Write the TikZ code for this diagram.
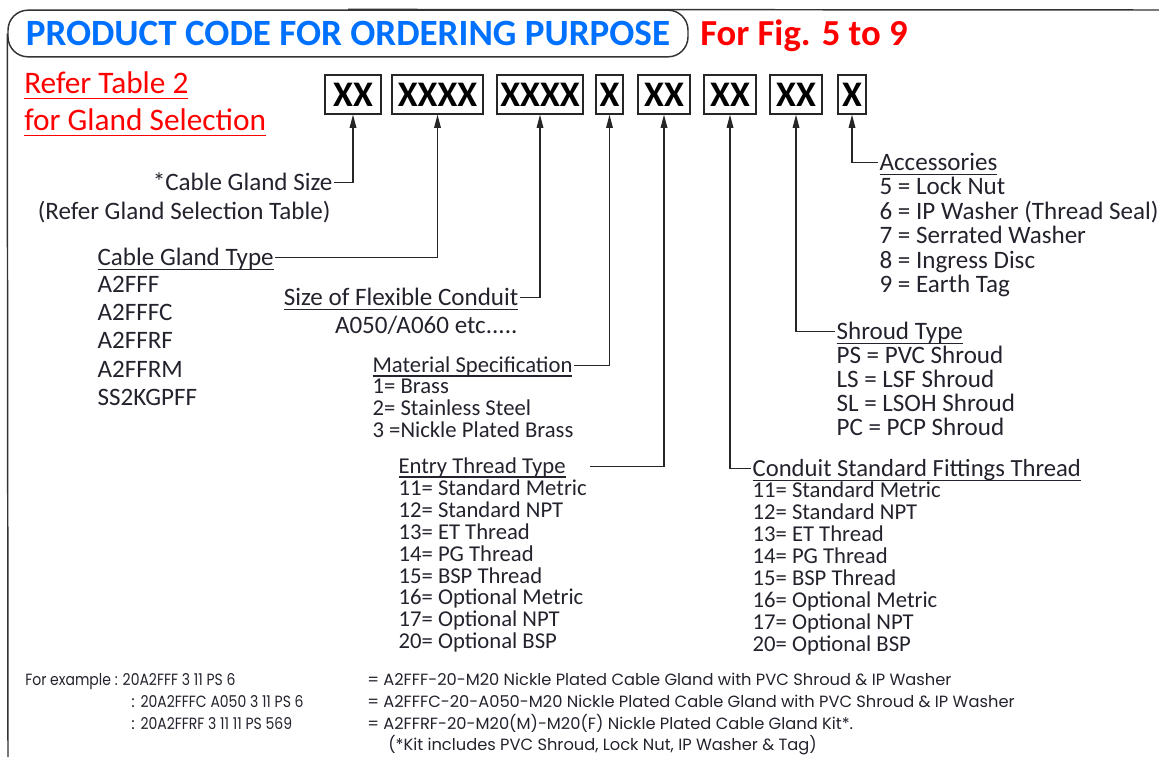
\documentclass[tikz,border=0pt]{standalone}
\usepackage{fontspec}
\setmainfont{Carlito}
\newfontfamily\footfont{Poppins}
\newfontfamily\footcode[FakeStretch=0.86]{Poppins}
\usetikzlibrary{arrows.meta}
\definecolor{titleblue}{RGB}{0,112,255}
\definecolor{notered}{RGB}{255,0,0}
\definecolor{ink}{RGB}{35,35,45}
\newsavebox\ulbox
\newcommand\undl[1]{\sbox\ulbox{#1}\rlap{\rule[-0.2em]{\wd\ulbox}{0.055em}}\usebox\ulbox}
\def\threadlist{11= Standard Metric,12= Standard NPT,13= ET Thread,14= PG Thread,15= BSP Thread,16= Optional Metric,17= Optional NPT,20= Optional BSP}
\tikzset{
  codebox/.style={draw=black!85, line width=1.2pt, inner sep=0pt, minimum height=29pt,
    font=\bfseries\fontsize{27}{30}\selectfont},
  lbl/.style={inner sep=1pt, text=ink, font=\fontsize{18.8}{22}\selectfont},
  small/.style={inner sep=1pt, text=ink, font=\fontsize{17}{20}\selectfont},
  note/.style={inner sep=0pt, text=notered, anchor=base west, font=\fontsize{23.5}{26}\selectfont},
  foot/.style={inner sep=0pt, text=ink, anchor=base west, font=\footfont\fontsize{12.2}{14}\selectfont},
  frame/.style={draw=black!80, line width=1.1pt},
}
\begin{document}
\begin{tikzpicture}[x=0.75pt, y=-0.75pt, >={Triangle[length=10pt,width=5pt]}]
  \useasboundingbox (0,0) rectangle (1159,757);
  % Title and frame
  \node[frame, rounded corners=15pt, minimum width=510pt, minimum height=35pt, text=titleblue,
    font=\bfseries\fontsize{27.8}{30}\selectfont] (title) at (348,33.5) {PRODUCT CODE FOR ORDERING PURPOSE};
  \node[anchor=base west, inner sep=0pt, text=notered, font=\bfseries\fontsize{27.5}{30}\selectfont] (fig) at (700,45) {For Fig. 5 to 9};
  \coordinate (topright) at (1159,10);
  \coordinate (botleft) at (8,757);
  \draw[frame] (title.north) -- (topright);
  \draw[frame] (title.west) -- (botleft);
  \node[note] (ref1) at (24,93) {\undl{Refer Table 2}};
  \node[note] (ref2) at (24,130) {\undl{for Gland Selection}};
  % Code boxes
  \node[codebox, minimum width=42pt] (c1) at (353,94.5) {XX};
  \node[codebox, minimum width=68pt] (c2) at (437.5,94.5) {XXXX};
  \node[codebox, minimum width=64.5pt] (c3) at (540,94.5) {XXXX};
  \node[codebox, minimum width=20.5pt] (c4) at (609.5,94.5) {X};
  \node[codebox, minimum width=39pt] (c5) at (664,94.5) {XX};
  \node[codebox, minimum width=39pt] (c6) at (730,94.5) {XX};
  \node[codebox, minimum width=39pt] (c7) at (796,94.5) {XX};
  \node[codebox, minimum width=21pt] (c8) at (852,94.5) {X};
  % Cable gland size and type
  \node[lbl, anchor=base east] (gsize) at (334,190) {*Cable Gland Size};
  \node[lbl, anchor=base east] (gsel) at (332,219) {(Refer Gland Selection Table)};
  \node[lbl, anchor=base west] (gtype) at (96,265) {\undl{Cable Gland Type}};
  \foreach \t [count=\i] in {A2FFF,A2FFFC,A2FFRF,A2FFRM,SS2KGPFF}
    \node[lbl, anchor=base west] (gt\i) at (96,{264+28.3*\i}) {\t};
  % Conduit size and material
  \node[lbl, anchor=base east] (fsize) at (520,305) {\undl{Size of Flexible Conduit}};
  \node[lbl, anchor=base east] (fex) at (519,333) {A050/A060 etc.....};
  \node[small, anchor=base west] (mat) at (371,372) {\undl{Material Specification}};
  \foreach \t [count=\i] in {1= Brass,2= Stainless Steel,3 =Nickle Plated Brass}
    \node[small, anchor=base west] (mat\i) at (371,{371+22*\i}) {\t};
  % Threads
  \node[small, anchor=base west] (entry) at (397,473) {\undl{Entry Thread Type}};
  \foreach \t [count=\i] in \threadlist
    \node[small, anchor=base west] (en\i) at (397,{474+21.8*\i}) {\t};
  \node[lbl, anchor=base west, font=\fontsize{18.5}{22}\selectfont] (cond) at (751,476) {\undl{Conduit Standard Fittings Thread}};
  \foreach \t [count=\i] in \threadlist
    \node[small, anchor=base west] (co\i) at (751,{476+21.9*\i}) {\t};
  % Shroud and accessories
  \node[lbl, anchor=base west] (shroud) at (835,339) {\undl{Shroud Type}};
  \foreach \t [count=\i] in {PS = PVC Shroud,LS = LSF Shroud,SL = LSOH Shroud,PC = PCP Shroud}
    \node[lbl, anchor=base west] (sh\i) at (835,{339+24*\i}) {\t};
  \node[lbl, anchor=base west] (acc) at (878,170) {\undl{Accessories}};
  \foreach \t [count=\i] in {5 = Lock Nut,6 = IP Washer (Thread Seal),7 = Serrated Washer,8 = Ingress Disc,9 = Earth Tag}
    \node[lbl, anchor=base west] (ac\i) at (878,{170+24.5*\i}) {\t};
  % Connectors
  \begin{scope}[line width=0.9pt, draw=black!85]
    \draw[<-] (c1.south) |- ([yshift=5.5pt]gsize.base east);
    \draw[<-] (c2.south) |- ([yshift=5.5pt]gtype.base east);
    \draw[<-] (c3.south) |- ([yshift=5.5pt]fsize.base east);
    \draw[<-] (c4.south) |- ([yshift=5pt]mat.base east);
    \draw[<-] (c5.south) |- ([xshift=17pt,yshift=5pt]entry.base east);
    \draw[<-] (c6.south) |- ([yshift=5.5pt]cond.base west);
    \draw[<-] (c7.south) |- ([yshift=5.5pt]shroud.base west);
    \draw[<-] (c8.south) |- ([yshift=5.5pt]acc.base west);
  \end{scope}
  % Examples
  \node[foot] (ex1) at (25,685) {{\footcode For example : 20A2FFF 3 11 PS 6}};
  \node[foot] (eq1) at (367,685) {= A2FFF-20-M20 Nickle Plated Cable Gland with PVC Shroud \& IP Washer};
  \node[foot] (ex2) at (131,707) {: {\footcode 20A2FFFC A050 3 11 PS 6}};
  \node[foot] (eq2) at (367,707) {= A2FFFC-20-A050-M20 Nickle Plated Cable Gland with PVC Shroud \& IP Washer};
  \node[foot] (ex3) at (131,729) {: {\footcode 20A2FFRF 3 11 11 PS 569}};
  \node[foot] (eq3) at (367,729) {= A2FFRF-20-M20(M)-M20(F) Nickle Plated Cable Gland Kit*.};
  \node[foot] (kit) at (388,750) {(*Kit includes PVC Shroud, Lock Nut, IP Washer \& Tag)};
\end{tikzpicture}
\end{document}
